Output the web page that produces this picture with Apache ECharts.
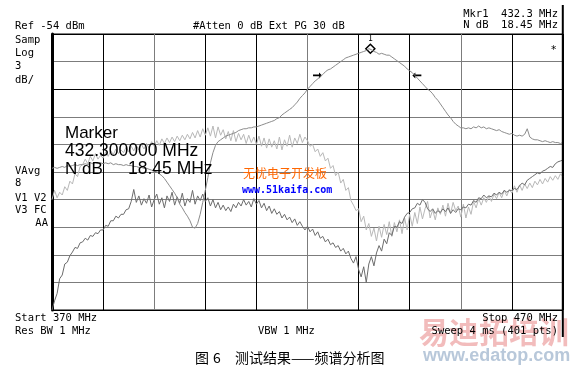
<!DOCTYPE html>
<html><head><meta charset="utf-8">
<script src="https://cdn.jsdelivr.net/npm/echarts/dist/echarts.min.js"></script>
<style>html,body{margin:0;padding:0;background:#fff}#c{width:574px;height:366px}</style>
</head><body><div id="c"></div>
<script>
// Sweep: 370 MHz .. 470 MHz, sampled every 0.5 MHz (values in dBm)
const freqStart = 370, freqStop = 470, freqStep = 0.5;
const refLevel = -54, dbPerDiv = 3;
const xTicks = [370,380,390,400,410,420,430,440,450,460,470];

const traceDark = [
-84.0,-83.0,-82.2,-80.6,-80.2,-79.0,-78.8,-78.1,-77.7,-77.2,
-77.3,-76.7,-76.6,-76.2,-76.4,-75.9,-76.0,-75.6,-75.7,-75.3,
-75.3,-74.8,-74.9,-74.3,-74.3,-73.8,-74.0,-73.6,-73.6,-73.1,
-73.0,-72.2,-70.9,-72.3,-71.6,-72.6,-71.9,-72.4,-71.5,-72.8,
-72.0,-71.4,-72.5,-71.8,-72.9,-71.6,-72.2,-71.2,-72.6,-71.7,
-72.4,-71.3,-72.7,-71.9,-72.3,-71.0,-72.5,-71.6,-72.1,-71.4,
-72.2,-71.8,-72.7,-72.0,-72.9,-72.3,-73.1,-72.6,-73.2,-72.8,
-73.3,-72.5,-72.9,-72.3,-72.7,-72.0,-72.6,-72.2,-72.8,-71.9,
-72.5,-72.1,-72.9,-72.4,-73.2,-72.7,-73.5,-73.0,-73.6,-73.3,
-74.0,-73.6,-74.2,-73.9,-74.5,-74.1,-74.8,-74.4,-74.9,-75.3,
-74.9,-75.5,-75.2,-75.9,-75.5,-76.2,-76.0,-76.6,-76.3,-76.9,
-76.7,-77.2,-77.0,-77.6,-77.3,-77.9,-77.6,-78.4,-78.9,-78.2,
-79.6,-80.4,-79.3,-81.0,-79.0,-78.2,-79.2,-77.8,-77.0,-77.6,
-76.3,-76.8,-75.6,-75.9,-74.9,-75.0,-74.4,-74.6,-73.9,-73.5,
-73.4,-73.0,-72.9,-72.4,-72.6,-72.0,-72.3,-73.0,-73.3,-73.0,
-73.5,-73.2,-73.4,-73.0,-73.3,-72.9,-73.5,-73.1,-73.4,-73.0,
-73.1,-72.8,-72.9,-72.5,-72.6,-72.1,-72.3,-71.8,-71.9,-71.5,
-71.8,-71.6,-71.7,-71.3,-71.5,-71.2,-71.4,-71.0,-71.2,-71.0,
-71.0,-70.8,-70.9,-70.5,-70.2,-70.4,-69.9,-69.7,-69.5,-69.3,
-69.1,-69.2,-68.9,-68.8,-68.6,-68.4,-68.5,-68.1,-67.9,-67.8,
-67.7];

const traceLight = [
-72.0,-71.0,-71.8,-71.2,-71.5,-70.6,-71.0,-70.0,-70.3,-69.2,
-69.5,-68.4,-68.2,-67.6,-68.1,-67.3,-67.8,-67.0,-67.6,-67.2,
-67.5,-66.8,-67.3,-66.7,-67.1,-66.5,-67.0,-66.6,-66.9,-66.3,
-66.8,-66.2,-66.7,-66.1,-66.6,-66.0,-66.5,-65.9,-66.4,-65.7,
-66.2,-65.6,-66.1,-65.4,-65.9,-65.3,-65.8,-65.2,-65.7,-65.1,
-65.6,-65.0,-65.5,-64.9,-65.4,-64.7,-65.3,-64.5,-65.2,-64.3,
-65.0,-64.2,-65.1,-64.0,-65.3,-64.1,-65.0,-64.4,-65.4,-64.6,
-65.6,-64.5,-65.7,-64.8,-65.5,-64.9,-65.9,-65.0,-65.8,-65.2,
-66.0,-65.1,-66.2,-65.3,-66.4,-65.4,-66.3,-65.6,-66.5,-65.2,
-66.6,-65.5,-66.2,-65.0,-66.3,-65.3,-65.9,-64.9,-65.8,-65.2,
-65.6,-66.2,-66.0,-66.8,-66.5,-67.3,-66.9,-67.8,-67.5,-68.6,
-68.3,-69.4,-69.0,-70.2,-69.8,-71.0,-70.7,-72.1,-72.6,-73.2,
-73.0,-74.4,-73.8,-75.3,-74.6,-76.0,-75.1,-76.5,-74.9,-76.1,
-74.7,-75.8,-74.4,-76.0,-74.5,-75.5,-74.2,-75.7,-74.0,-75.3,
-73.6,-74.9,-73.4,-74.6,-72.8,-74.1,-73.0,-72.2,-74.0,-73.1,
-74.2,-72.9,-73.6,-72.6,-73.8,-72.4,-73.5,-72.3,-73.2,-72.7,
-73.9,-72.5,-74.0,-72.8,-73.6,-72.2,-72.9,-71.9,-72.6,-71.8,
-72.3,-71.6,-72.2,-71.4,-71.9,-71.2,-71.8,-71.0,-71.6,-70.9,
-71.3,-70.5,-71.2,-70.4,-71.0,-70.3,-70.8,-70.2,-70.7,-70.0,
-70.4,-69.8,-70.3,-69.7,-70.1,-69.5,-69.9,-69.4,-69.8,-69.2,
-69.5];

const tracePeak = [
-68.6,-68.5,-68.6,-68.5,-68.4,-68.5,-68.3,-68.4,-68.3,-68.2,
-68.3,-68.2,-68.2,-68.1,-68.2,-68.0,-68.1,-68.0,-68.1,-68.0,
-68.1,-68.0,-68.1,-68.0,-68.2,-68.1,-68.2,-68.2,-68.3,-68.2,
-68.3,-68.3,-68.4,-68.4,-68.5,-68.5,-68.6,-68.6,-68.7,-68.8,
-68.9,-69.0,-69.2,-69.4,-69.7,-70.1,-70.5,-70.9,-71.3,-71.8,
-72.5,-72.9,-73.4,-73.8,-74.3,-75.0,-75.1,-74.6,-73.6,-72.3,
-71.0,-69.6,-68.0,-66.9,-66.1,-65.7,-65.5,-65.3,-65.1,-65.0,
-64.9,-64.8,-64.7,-64.5,-64.4,-64.3,-64.3,-64.2,-64.2,-64.1,
-64.1,-64.0,-63.9,-63.8,-63.7,-63.6,-63.5,-63.4,-63.2,-63.1,
-62.8,-62.6,-62.4,-62.2,-62.0,-61.7,-61.4,-61.0,-60.7,-60.4,
-60.0,-59.7,-59.4,-59.1,-58.9,-58.6,-58.4,-58.1,-57.9,-57.8,
-57.6,-57.4,-57.2,-57.0,-56.8,-56.6,-56.5,-56.4,-56.3,-56.2,
-56.1,-56.0,-55.9,-55.8,-55.6,-55.7,-55.9,-56.0,-56.2,-56.1,
-56.2,-56.3,-56.3,-56.5,-56.7,-56.9,-57.1,-57.3,-57.5,-57.8,
-58.0,-58.2,-58.5,-58.8,-59.1,-59.4,-59.7,-60.0,-60.2,-60.5,
-60.9,-61.2,-61.6,-62.0,-62.4,-62.8,-63.1,-63.5,-63.8,-64.0,
-64.2,-64.2,-64.3,-64.2,-64.3,-64.1,-64.2,-64.0,-64.2,-64.1,
-64.3,-64.2,-64.3,-64.4,-64.5,-64.4,-64.6,-64.7,-64.8,-64.9,
-64.8,-65.0,-65.1,-65.0,-65.1,-64.9,-64.3,-65.2,-65.4,-65.5,
-65.5,-65.6,-65.7,-65.6,-65.7,-65.8,-65.7,-65.8,-65.8,-65.9,
-65.8];

// Marker 1 and N dB points
const markerFreq = 432.3, markerLevel = -55.6;
const ndbFreqs = [421.96, 441.4], ndbLevel = -58.5;

const toPairs = arr => arr.map((v, i) => [freqStart + i * freqStep, v]);

const BLK = '#000', GRY = '#7c7c7c';
const mono = '"DejaVu Sans Mono", monospace';
const sans = '"Liberation Sans", Arial, sans-serif';
const cjk = '"Noto Sans CJK SC", sans-serif';

function txt(x, y, text, opt) {
  opt = opt || {};
  return { type: 'text', z: opt.z || 50, style: {
    x: x, y: y, text: text, font: opt.font || ('10.5px ' + mono),
    fill: opt.fill || '#000', align: opt.align || 'left', verticalAlign: 'middle', opacity: opt.opacity == null ? 1 : opt.opacity } };
}

const chart = echarts.init(document.getElementById('c'), null, { renderer: 'canvas' });
chart.setOption({
  animation: false,
  backgroundColor: '#fff',
  grid: { left: 52, right: 11, top: 34, bottom: 56, show: true, borderColor: '#000', borderWidth: 1 },
  xAxis: {
    type: 'value', min: freqStart, max: freqStop, interval: 10,
    axisLine: { show: false }, axisTick: { show: false }, axisLabel: { show: false },
    splitLine: { show: true, lineStyle: { width: 1, color: [BLK, BLK, GRY, BLK, BLK, GRY, BLK, BLK, GRY, BLK, BLK] } }
  },
  yAxis: {
    type: 'value', min: refLevel - 10 * dbPerDiv, max: refLevel, interval: dbPerDiv,
    axisLine: { show: true, lineStyle: { color: '#000', width: 3 } }, axisTick: { show: false }, axisLabel: { show: false },
    splitLine: { show: true, lineStyle: { width: 1, color: [BLK, GRY, GRY, GRY, GRY, GRY, GRY, GRY, BLK, GRY, BLK] } }
  },
  series: [
    { type: 'line', data: toPairs(traceLight), showSymbol: false, lineStyle: { color: '#b8b8b8', width: 1 }, z: 3 },
    { type: 'line', data: toPairs(traceDark), showSymbol: false, lineStyle: { color: '#6c6c6c', width: 1 }, z: 4 },
    { type: 'line', data: toPairs(tracePeak), showSymbol: false, lineStyle: { color: '#8c8c8c', width: 1 }, z: 5,
      markPoint: {
        silent: true,
        data: [
          { coord: [markerFreq, markerLevel], symbol: 'diamond', symbolSize: [9, 9],
            itemStyle: { color: '#fff', borderColor: '#000', borderWidth: 1.5 },
            label: { show: true, position: 'top', distance: 1, formatter: '1', color: '#000', fontSize: 8, fontFamily: 'DejaVu Sans Mono' } },
          { coord: [ndbFreqs[0], ndbLevel], symbol: 'path://M0,2.5 L6,2.5 L6,0 L9,3.5 L6,7 L6,4.5 L0,4.5 Z', symbolSize: [9, 6],
            itemStyle: { color: '#000' }, label: { show: false } },
          { coord: [ndbFreqs[1], ndbLevel], symbol: 'path://M9,2.5 L3,2.5 L3,0 L0,3.5 L3,7 L3,4.5 L9,4.5 Z', symbolSize: [9, 6],
            itemStyle: { color: '#000' }, label: { show: false } }
        ]
      }
    }
  ],
  graphic: [
    // watermark (edatop)
    { type: 'text', z: 1, style: { x: 419, y: 332, text: '易迪拓培训', font: 'bold 30px ' + cjk, fill: '#f2bcbc', verticalAlign: 'middle' } },
    { type: 'text', z: 1, style: { x: 423, y: 356, text: 'www.edatop.com', font: 'bold 18px ' + sans, fill: '#b8c8da', verticalAlign: 'middle' } },
    // right border extension
    { type: 'line', z: 60, shape: { x1: 562.8, y1: 5, x2: 562.8, y2: 337 }, style: { stroke: '#000', lineWidth: 2 } },
    txt(15, 26.5, 'Ref -54 dBm'),
    txt(193, 26.5, '#Atten 0 dB Ext PG 30 dB'),
    txt(558, 14.5, 'Mkr1  432.3 MHz', { align: 'right' }),
    txt(558, 25.5, 'N dB  18.45 MHz', { align: 'right' }),
    txt(15, 40.5, 'Samp'), txt(15, 53.5, 'Log'), txt(15, 66.7, '3'), txt(15, 80.5, 'dB/'),
    txt(15, 171.5, 'VAvg'), txt(15, 183.5, '8'), txt(15, 198, 'V1 V2'), txt(15, 210.5, 'V3 FC'), txt(48, 223.5, 'AA', { align: 'right' }),
    txt(550.5, 50, '*'),
    txt(15, 318.5, 'Start 370 MHz'), txt(15, 331, 'Res BW 1 MHz'),
    txt(258, 331, 'VBW 1 MHz'),
    txt(558, 318.5, 'Stop 470 MHz', { align: 'right' }), txt(558, 331, 'Sweep 4 ms (401 pts)', { align: 'right' }),
    // marker readout box
    txt(65, 133, 'Marker', { font: '17px ' + sans }),
    txt(65, 151.5, '432.300000 MHz', { font: '17.5px ' + sans }),
    txt(65, 169.5, 'N dB', { font: '17px ' + sans }),
    txt(128, 169.5, '18.45 MHz', { font: '17.5px ' + sans }),
    // site watermark
    txt(243, 173, '无忧电子开发板', { font: '12px ' + cjk, fill: '#ff6600' }),
    txt(242, 190.5, 'www.51kaifa.com', { font: 'bold 10px ' + mono, fill: '#0000ff' }),
    // caption
    txt(195, 357.5, '图', { font: '14px ' + cjk }),
    txt(213, 357.5, '6', { font: '14px ' + cjk }),
    txt(235, 357.5, '测试结果——频谱分析图', { font: '14px ' + cjk })
  ]
});
</script>
</body></html>
